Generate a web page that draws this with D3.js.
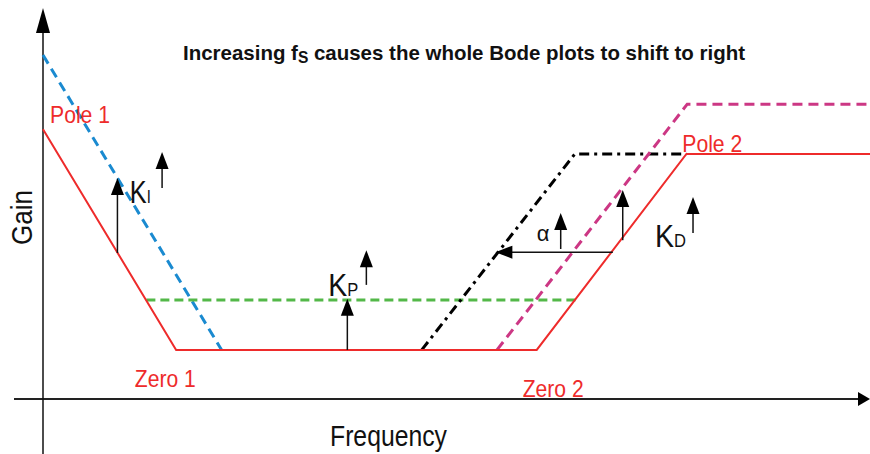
<!DOCTYPE html>
<style>
body { margin: 0; background: #fff; }
svg { font-family: 'Liberation Sans Narrow', 'Liberation Sans', Arial, sans-serif; }
.axis-line { stroke: #222; stroke-width: 2px; }
.curve { fill: none; }
.red-label { fill: #ee2b2b; font-size: 24px; }
.k-label { fill: #111; font-size: 31px; }
.k-sub { font-size: 18px; }
.arrow line { stroke: #111; stroke-width: 1.5px; }
.arrow path { fill: #000; }
</style>
<svg width="870" height="454"></svg>
<script src="https://d3js.org/d3.v7.min.js"></script>
<script>
// schematic Bode magnitude (arbitrary units 0..100 on both axes)
var poleZeroBase = [[0, 67.6], [16.1, 12.3], [59.7, 12.3], [77.8, 61.4], [100, 61.4]];
var integralShift = [[0, 86.2], [21.6, 12.3]];
var proportionalShift = [[12.5, 24.8], [64.7, 24.8]];
var alphaShift = [[45.8, 12.3], [64.3, 61.4], [77.8, 61.4]];
var derivativeShift = [[54.9, 12.3], [77.9, 73.9], [100, 73.9]];

// vertical arrows: [x, from, to]
var upArrows = [
  [9.0, 36.6, 55.4], [14.4, 52.9, 61.9],
  [36.8, 12.3, 25.1], [39.1, 28.6, 37.3],
  [62.6, 37.6, 46.6], [70.1, 39.8, 52.4],
  [78.6, 41.6, 50.6]
];
// horizontal arrow: [y, from, to]
var leftArrows = [[36.8, 68.9, 54.7]];

var redLabels = [
  {text: "Pole  1", x: 0.85, y: 69.2, len: 60},
  {text: "Zero 1", x: 11.1, y: 3.0, len: 61},
  {text: "Zero 2", x: 58.0, y: 0.5, len: 61},
  {text: "Pole  2", x: 77.3, y: 61.9, len: 60}
];
var kLabels = [
  {main: "K", sub: "I", x: 10.5, y: 49.1, len: 21},
  {main: "K", sub: "P", x: 34.5, y: 25.8, len: 30},
  {main: "K", sub: "D", x: 74.0, y: 38.0, len: 31}
];

var svg = d3.select("svg");

var x = d3.scaleLinear().domain([0, 100]).range([43, 870]);
var y = d3.scaleLinear().domain([0, 100]).range([399, 0]);

var line = d3.line().x(function(d) { return x(d[0]); }).y(function(d) { return y(d[1]); });

// axes
svg.append("line").attr("class", "axis-line")
    .attr("x1", 14).attr("x2", 859).attr("y1", y(0)).attr("y2", y(0));
svg.append("path")
    .attr("d", "M858," + (y(0) - 7) + "L870," + y(0) + "L858," + (y(0) + 7) + "Z")
    .attr("fill", "#000");
svg.append("line")
    .attr("x1", x(0)).attr("x2", x(0)).attr("y1", 454).attr("y2", 32)
    .attr("stroke", "#111").attr("stroke-width", 1.5);
svg.append("path")
    .attr("d", "M" + (x(0) - 7) + ",33L" + x(0) + ",8L" + (x(0) + 7) + ",33Z")
    .attr("fill", "#000");

// curves
svg.append("path").attr("class", "curve").datum(integralShift).attr("d", line)
    .attr("stroke", "#1a8ad0").attr("stroke-width", 3).attr("stroke-dasharray", "10,6");
svg.append("path").attr("class", "curve").datum(proportionalShift).attr("d", line)
    .attr("stroke", "#53b848").attr("stroke-width", 3).attr("stroke-dasharray", "9,5");
svg.append("path").attr("class", "curve").datum(alphaShift).attr("d", line)
    .attr("stroke", "#000").attr("stroke-width", 3).attr("stroke-dasharray", "10,5,3,5");
svg.append("path").attr("class", "curve").datum(derivativeShift).attr("d", line)
    .attr("stroke", "#cc3784").attr("stroke-width", 3).attr("stroke-dasharray", "10,6");
svg.append("path").attr("class", "curve").datum(poleZeroBase).attr("d", line)
    .attr("stroke", "#ee2b2b").attr("stroke-width", 2);

// arrows
var up = svg.selectAll(".up").data(upArrows).enter().append("g").attr("class", "arrow");
up.append("line")
    .attr("x1", function(d) { return x(d[0]); }).attr("x2", function(d) { return x(d[0]); })
    .attr("y1", function(d) { return y(d[1]); }).attr("y2", function(d) { return y(d[2]) + 10; });
up.append("path")
    .attr("d", function(d) {
      var cx = x(d[0]), ty = y(d[2]);
      return "M" + (cx - 6.5) + "," + (ty + 17) + "L" + cx + "," + ty + "L" + (cx + 6.5) + "," + (ty + 17) + "Z";
    });

var left = svg.selectAll(".left").data(leftArrows).enter().append("g").attr("class", "arrow");
left.append("line")
    .attr("x1", function(d) { return x(d[1]); }).attr("x2", function(d) { return x(d[2]) + 10; })
    .attr("y1", function(d) { return y(d[0]); }).attr("y2", function(d) { return y(d[0]); });
left.append("path")
    .attr("d", function(d) {
      var tx = x(d[2]), cy = y(d[0]);
      return "M" + (tx + 17) + "," + (cy - 6.5) + "L" + tx + "," + cy + "L" + (tx + 17) + "," + (cy + 6.5) + "Z";
    });

// labels
svg.selectAll(".red-label").data(redLabels).enter().append("text")
    .attr("class", "red-label")
    .attr("x", function(d) { return x(d.x); })
    .attr("y", function(d) { return y(d.y); })
    .attr("textLength", function(d) { return d.len; })
    .attr("lengthAdjust", "spacingAndGlyphs")
    .text(function(d) { return d.text; });

var kt = svg.selectAll(".k-label").data(kLabels).enter().append("text")
    .attr("class", "k-label")
    .attr("x", function(d) { return x(d.x); })
    .attr("y", function(d) { return y(d.y); })
    .attr("textLength", function(d) { return d.len; })
    .attr("lengthAdjust", "spacingAndGlyphs");
kt.append("tspan").text(function(d) { return d.main; });
kt.append("tspan").attr("class", "k-sub").text(function(d) { return d.sub; });

svg.append("text")
    .attr("x", x(59.7)).attr("y", y(39.6))
    .attr("font-size", 22).attr("fill", "#111")
    .text("α");

// title
var title = svg.append("text")
    .attr("x", 183).attr("y", 60)
    .attr("font-size", 21).attr("font-weight", "bold").attr("fill", "#111")
    .attr("textLength", 562).attr("lengthAdjust", "spacingAndGlyphs");
title.append("tspan").text("Increasing  f");
title.append("tspan").attr("font-size", 16).attr("dy", 3).text("S");
title.append("tspan").attr("dy", -3).text("  causes the whole Bode plots to shift to right");

// axis titles
svg.append("text")
    .attr("x", 330).attr("y", 446)
    .attr("font-size", 30).attr("fill", "#111")
    .attr("textLength", 117).attr("lengthAdjust", "spacingAndGlyphs")
    .text("Frequency");
svg.append("text")
    .attr("transform", "translate(32,245) rotate(-90)")
    .attr("font-size", 30).attr("fill", "#111")
    .attr("textLength", 55).attr("lengthAdjust", "spacingAndGlyphs")
    .text("Gain");
</script>
